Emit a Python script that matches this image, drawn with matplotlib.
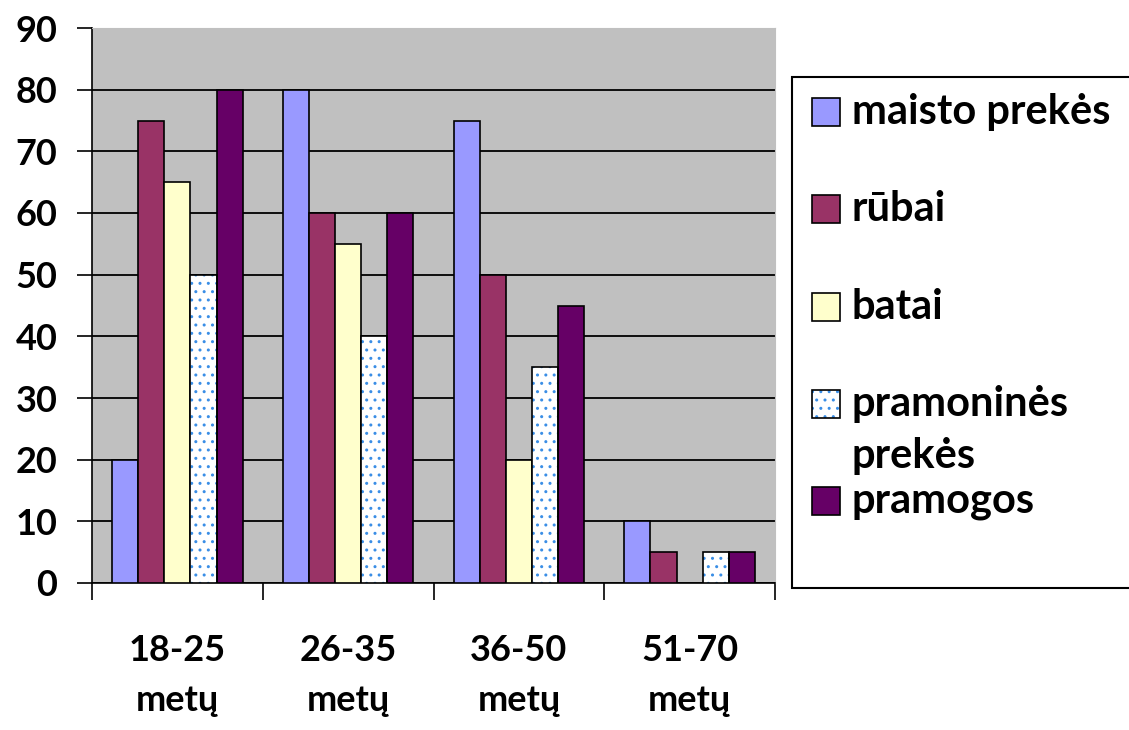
import matplotlib
matplotlib.use("Agg")
import matplotlib.pyplot as plt
from matplotlib.patches import Rectangle
import numpy as np

plt.rcParams['font.family'] = ['Lato', 'DejaVu Sans']

categories = ["18-25\nmetų", "26-35\nmetų", "36-50\nmetų", "51-70\nmetų"]
series_names = ["maisto prekės", "rūbai", "batai", "pramoninės\nprekės", "pramogos"]
maisto = [20, 80, 75, 10]
rubai = [75, 60, 50, 5]
batai = [65, 55, 20, 0]
pramonines = [50, 40, 35, 5]
pramogos = [80, 60, 45, 5]
series = [maisto, rubai, batai, pramonines, pramogos]
colors = ["#9999FF", "#993366", "#FFFFCC", "#FFFFFF", "#660066"]
yticks = list(range(0, 91, 10))

W, H = 1129, 730
FS = 25
LFS = 30
fig = plt.figure(figsize=(W / 100, H / 100), dpi=100)
ax = fig.add_axes([92 / W, 1 - 583 / H, (775 - 92) / W, (583 - 28) / H])
ax.set_facecolor("#C0C0C0")

n = len(series)
bw = 0.153
x = np.arange(len(categories))
for i, (vals, c) in enumerate(zip(series, colors)):
    pos = x + (i - (n - 1) / 2) * bw
    vals_arr = np.array(vals, dtype=float)
    mask = vals_arr > 0
    if i == 3:
        ax.bar(pos[mask], vals_arr[mask], bw, color="white", edgecolor="#3A8EE6",
               hatch="..", linewidth=0, zorder=3)
        ax.bar(pos[mask], vals_arr[mask], bw, fill=False, edgecolor="black",
               linewidth=1.2, zorder=4)
    else:
        ax.bar(pos[mask], vals_arr[mask], bw, color=c, edgecolor="black",
               linewidth=1.2, zorder=3)

ax.set_xlim(-0.5, len(categories) - 0.5)
ax.set_ylim(0, 90)
ax.set_yticks(yticks)
ax.set_yticklabels([str(v) for v in yticks], fontsize=FS + 1, fontweight="bold")
ax.yaxis.grid(True, color="black", linewidth=1.3, zorder=1)
ax.set_axisbelow(True)
ax.tick_params(axis="y", length=11, width=1.2, pad=14)

ax.set_xticks(np.arange(len(categories) + 1) - 0.5)
ax.set_xticklabels([])
ax.tick_params(axis="x", length=12, width=1.2)
ax.set_xticks(x, minor=True)
ax.set_xticklabels(categories, minor=True, fontsize=FS + 1, fontweight="bold", linespacing=1.6)
ax.tick_params(axis="x", which="minor", length=0, pad=37)

for s in ["top", "right"]:
    ax.spines[s].set_color("#C0C0C0")
ax.spines["left"].set_color("black")
ax.spines["left"].set_linewidth(1.2)
ax.spines["bottom"].set_color("black")
ax.spines["bottom"].set_linewidth(1.2)

# legend drawn in figure pixel coordinates
def fx(px):
    return px / W

def fy(py):
    return 1 - py / H

fig.patches.append(Rectangle((fx(792), fy(588)), fx(1140) - fx(792), fy(77) - fy(588),
                             transform=fig.transFigure, facecolor="white",
                             edgecolor="black", linewidth=1.5, zorder=0))
centers = [112, 209, 307, 404, 501]
sq = 28
for name, c, cy, i in zip(series_names, colors, centers, range(n)):
    if i == 3:
        fig.patches.append(Rectangle((fx(812), fy(cy + sq / 2)), sq / W, sq / H,
                                     transform=fig.transFigure, facecolor="white",
                                     edgecolor="#3A8EE6", hatch="..", linewidth=0))
        fig.patches.append(Rectangle((fx(812), fy(cy + sq / 2)), sq / W, sq / H,
                                     transform=fig.transFigure, fill=False,
                                     edgecolor="black", linewidth=1.2))
        fig.text(fx(852), fy(cy), "pramoninės", fontsize=LFS, fontweight="bold",
                 va="center", ha="left")
        fig.text(fx(852), fy(456), "prekės", fontsize=LFS, fontweight="bold",
                 va="center", ha="left")
    else:
        fig.patches.append(Rectangle((fx(812), fy(cy + sq / 2)), sq / W, sq / H,
                                     transform=fig.transFigure, facecolor=c,
                                     edgecolor="black", linewidth=1.2))
        fig.text(fx(852), fy(cy), name, fontsize=LFS, fontweight="bold",
                 va="center", ha="left")

fig.savefig("out.png", dpi=100)
